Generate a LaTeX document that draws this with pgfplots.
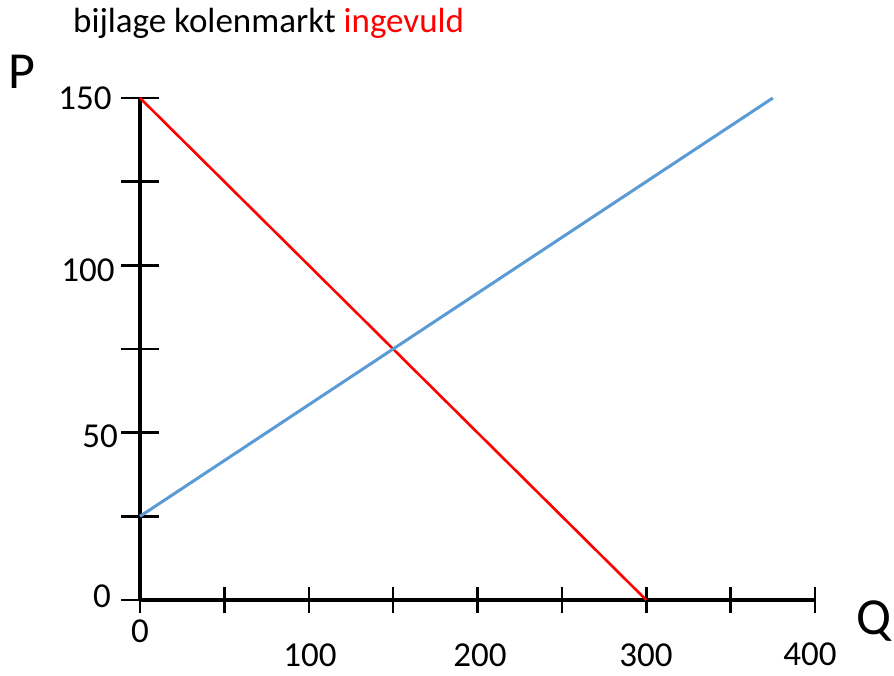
\documentclass[border=0pt]{standalone}
\usepackage{pgfplots}
\pgfplotsset{compat=1.18}
\usepackage{fontspec}
\setmainfont{Carlito}
\definecolor{myblue}{RGB}{91,155,213}
\definecolor{myred}{RGB}{255,0,0}
\begin{document}
\begin{tikzpicture}[x=1pt,y=1pt]
\useasboundingbox (0,0) rectangle (894,676);
\begin{axis}[
  at={(140pt,76pt)}, anchor=south west,
  width=675pt, height=502pt, scale only axis,
  xmin=0, xmax=400, ymin=0, ymax=150,
  axis lines=left,
  axis line style={line width=4pt, black, -},
  clip=false,
  hide obscured x ticks=false, hide obscured y ticks=false,
  xtick={0,50,...,400}, ytick={0,25,...,150},
  xticklabels={}, yticklabels={},
  tick align=center,
  tick style={line width=2.5pt, black},
  major tick length=38pt,
  xtick style={/pgfplots/major tick length=26pt},
]
\draw[line width=2.5pt, black] (axis cs:0,150) ++(-19pt,0) -- ++(38pt,0);
\addplot[myred, line width=2.6pt] coordinates {(0,150) (300,0)};
\addplot[myblue, line width=3pt] coordinates {(0,25) (375,150)};
\end{axis}
\tikzset{lab/.style={inner sep=0pt, font=\fontsize{35}{42}\selectfont}}
\node[lab] at (140,45) {0};
\node[lab] at (310,21) {100};
\node[lab] at (480,21) {200};
\node[lab] at (646,21) {300};
\node[lab] at (810,22) {400};
\node[lab] at (85,578) {150};
\node[lab] at (88,406) {100};
\node[lab] at (100,240) {50};
\node[lab] at (102,80) {0};
\node[inner sep=0pt, anchor=base west, font=\fontsize{35}{42}\selectfont] at (73,643) {bijlage kolenmarkt \textcolor{myred}{ingevuld}};
\node[inner sep=0pt, font=\fontsize{52}{62}\selectfont] at (22,604) {P};
\node[inner sep=0pt, font=\fontsize{52}{62}\selectfont] at (874,55) {Q};
\end{tikzpicture}
\end{document}
